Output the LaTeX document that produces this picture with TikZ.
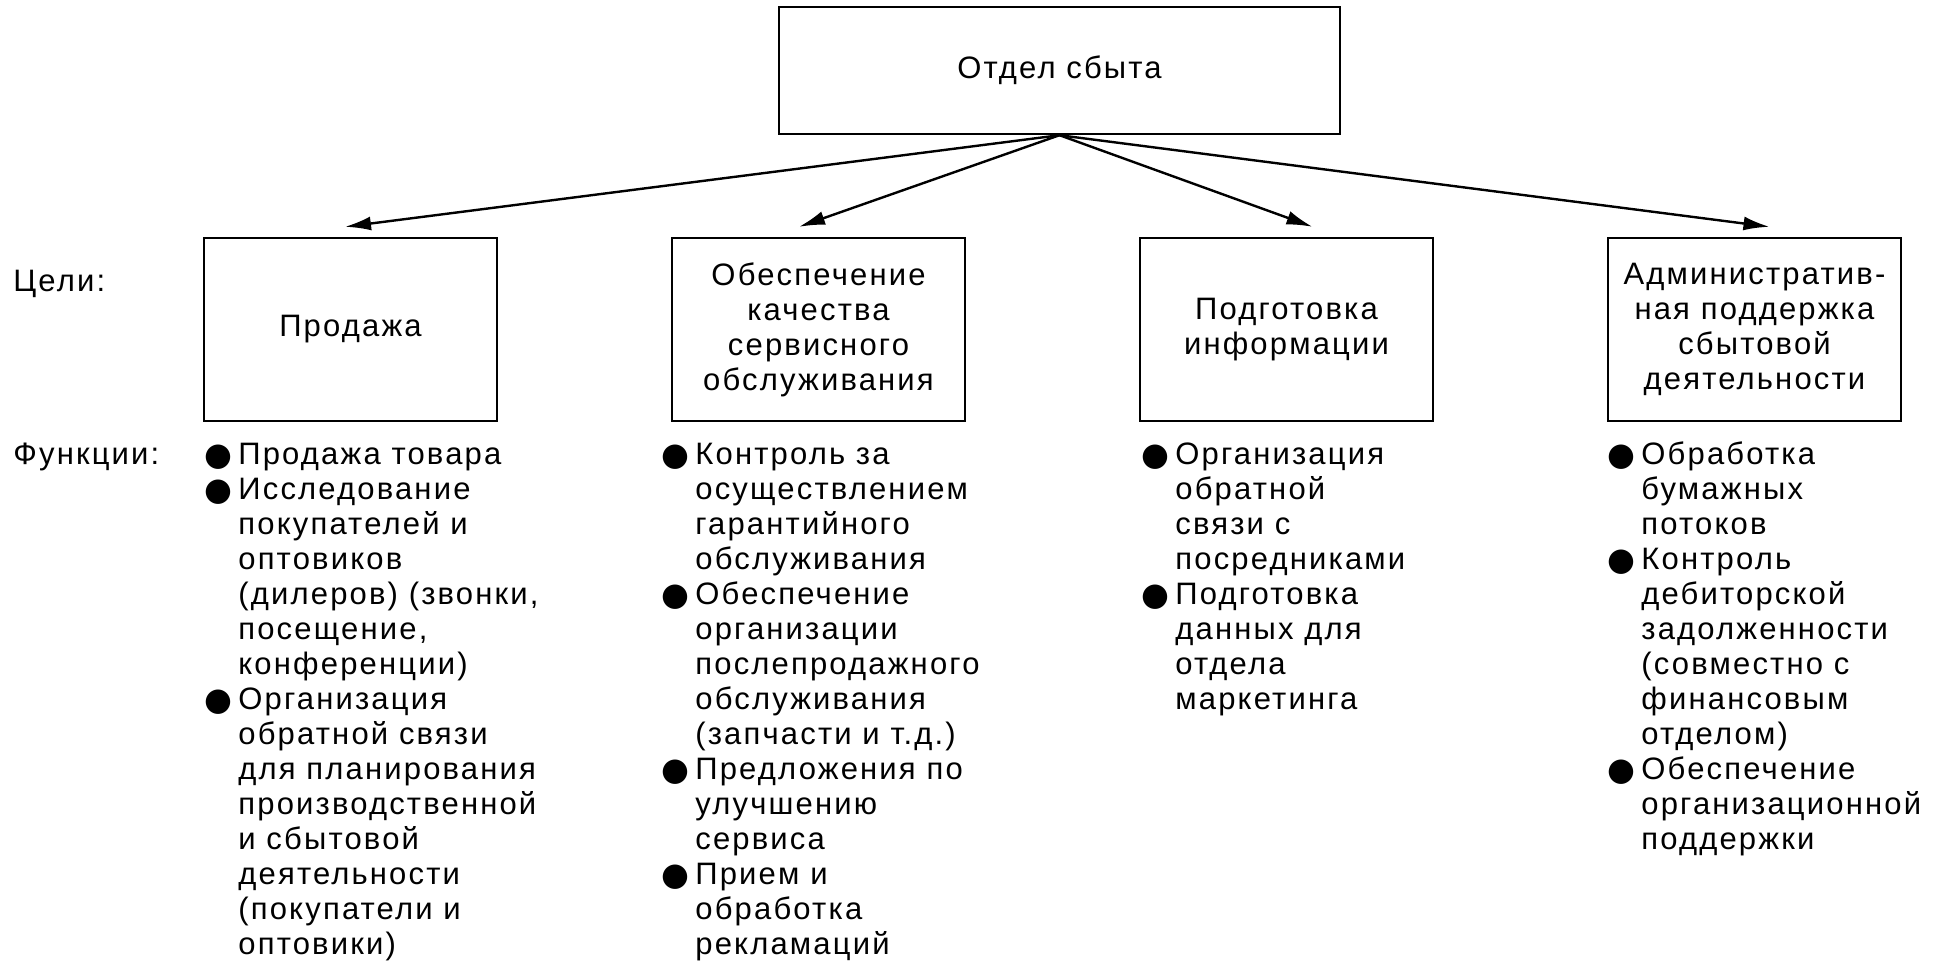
\documentclass[tikz,border=0pt]{standalone}
\usepackage{fontspec}
\setmainfont[LetterSpace=7]{Liberation Sans}
\newfontfamily\bulfont{DejaVu Sans}
\usetikzlibrary{positioning}
\usetikzlibrary{arrows.meta}
\newcommand{\bul}{\makebox[17pt][l]{\raisebox{-0.8pt}{\bulfont\fontsize{16}{16}\selectfont ●}}}
\newcommand{\ind}{\hspace*{17pt}}

\begin{document}
\begin{tikzpicture}[x=0.5pt,y=-0.5pt,node distance=234pt,
  every node/.style={font=\fontsize{15.5}{17.5}\selectfont},
  box/.style={draw,line width=1.2pt,minimum width=146.5pt,minimum height=91.5pt,align=center,inner sep=0pt},
  txt/.style={inner sep=0pt,align=left},
  arr/.style={line width=1.2pt,-{Latex[length=13pt,width=7pt]}}]
\useasboundingbox (0,0) rectangle (1939,971);
  \node[box,minimum width=280.5pt,minimum height=63.5pt] (dept) at (1059.5,70.5) {Отдел сбыта};
  \node[box] (sale) at (350.5,329.5) {Продажа};
  \node[box,right of=sale] (serv) {Обеспечение\\качества\\сервисного\\обслуживания};
  \node[box,right of=serv] (info) {Подготовка\\информации};
  \node[box,right of=info] (admin) {Административ-\\ная поддержка\\сбытовой\\деятельности};
  \node[txt,anchor=base west] (goals) at (13,291) {Цели:};
  \node[txt,anchor=base west] (funcs) at (13,464) {Функции:};
  % functions under each goal
  \node[txt,anchor=base west] (salef) at (204,464) {\begin{tabular}[t]{@{}l@{}}
    \bul Продажа товара\\ \bul Исследование\\ \ind покупателей и\\ \ind оптовиков\\
    \ind (дилеров) (звонки,\\ \ind посещение,\\ \ind конференции)\\ \bul Организация\\
    \ind обратной связи\\ \ind для планирования\\ \ind производственной\\ \ind и сбытовой\\
    \ind деятельности\\ \ind (покупатели и\\ \ind оптовики)\end{tabular}};
  \node[txt,anchor=base west] (servf) at (661,464) {\begin{tabular}[t]{@{}l@{}}
    \bul Контроль за\\ \ind осуществлением\\ \ind гарантийного\\ \ind обслуживания\\
    \bul Обеспечение\\ \ind организации\\ \ind послепродажного\\ \ind обслуживания\\
    \ind (запчасти и т.д.)\\ \bul Предложения по\\ \ind улучшению\\ \ind сервиса\\
    \bul Прием и\\ \ind обработка\\ \ind рекламаций\end{tabular}};
  \node[txt,anchor=base west] (infof) at (1141,464) {\begin{tabular}[t]{@{}l@{}}
    \bul Организация\\ \ind обратной\\ \ind связи с\\ \ind посредниками\\
    \bul Подготовка\\ \ind данных для\\ \ind отдела\\ \ind маркетинга\end{tabular}};
  \node[txt,anchor=base west] (adminf) at (1607,464) {\begin{tabular}[t]{@{}l@{}}
    \bul Обработка\\ \ind бумажных\\ \ind потоков\\ \bul Контроль\\ \ind дебиторской\\
    \ind задолженности\\ \ind (совместно с\\ \ind финансовым\\ \ind отделом)\\
    \bul Обеспечение\\ \ind организационной\\ \ind поддержки\end{tabular}};
  \draw[arr] (dept.south) -- ([xshift=-2.75pt,yshift=5pt]sale.north);
  \draw[arr] (dept.south) -- ([xshift=-9.75pt,yshift=5pt]serv.north);
  \draw[arr] (dept.south) -- ([xshift=13pt,yshift=5pt]info.north);
  \draw[arr] (dept.south) -- ([xshift=7.5pt,yshift=5pt]admin.north);
\end{tikzpicture}
\end{document}
